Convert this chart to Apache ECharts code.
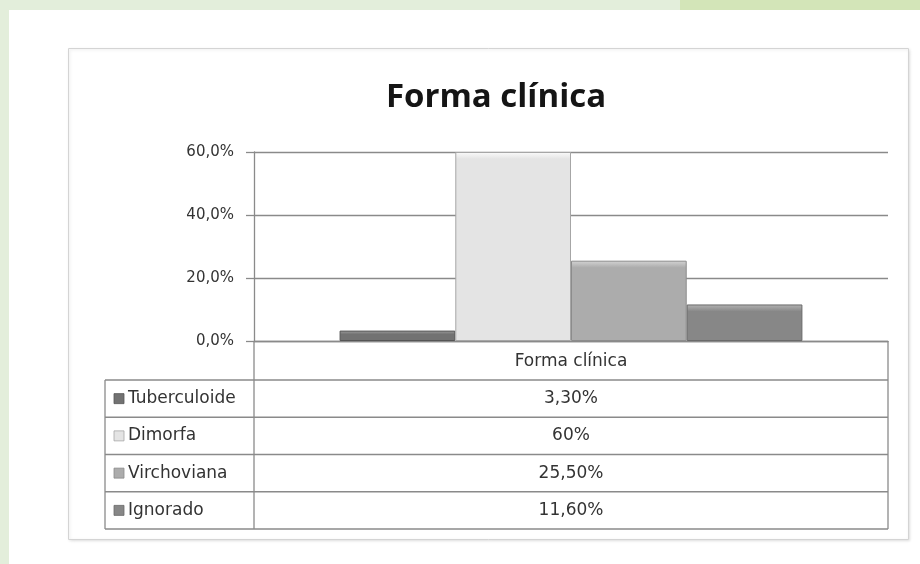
<!DOCTYPE html>
<html>
<head>
<meta charset="utf-8">
<script src="https://cdn.jsdelivr.net/npm/echarts@6/dist/echarts.min.js"></script>
<style>
  html, body { margin: 0; padding: 0; background: #ffffff; }
  #chart { width: 920px; height: 564px; }
</style>
</head>
<body>
<div id="chart"></div>
<script>
// ---- data ----
const titleText = 'Forma clínica';
const categories = ['Forma clínica'];
const seriesNames = ['Tuberculoide', 'Dimorfa', 'Virchoviana', 'Ignorado'];
const seriesValues = [3.3, 60, 25.5, 11.6];
const tableLabels = ['3,30%', '60%', '25,50%', '11,60%'];
const yMin = 0, yMax = 60, yInterval = 20;

// ---- styles ----
const fillColors = ['#727272', '#e4e4e4', '#acacac', '#878787'];
const topColors = ['#a0a0a0', '#fbfbfb', '#d4d4d4', '#b4b4b4'];
const borderColors = ['#555555', '#a6a6a6', '#8c8c8c', '#6a6a6a'];
const FONT = '"DejaVu Sans", sans-serif';
const TITLE_FONT = '"Open Sans", Lato, sans-serif';

const grid = { left: 254, right: 32, top: 152, bottom: 223 };
const plotH = 564 - grid.top - grid.bottom;
const pxPerUnit = plotH / (yMax - yMin);
const bevelPx = 7;

const chart = echarts.init(document.getElementById('chart'), null, { renderer: 'canvas' });

// table geometry
const tblLeft = 105, tblDiv = 254, tblRight = 888;
const headerTop = 564 - grid.bottom;
const tblTop = 380, rowH = 37.25;
const lineColor = '#8a8a8a';

const graphics = [];
// page decorations
graphics.push({ type: 'rect', z: -10, shape: { x: 0, y: 0, width: 920, height: 10 }, style: { fill: '#e3eedb' } });
graphics.push({ type: 'rect', z: -10, shape: { x: 680, y: 0, width: 240, height: 10 }, style: { fill: '#d3e5b8' } });
graphics.push({ type: 'rect', z: -10, shape: { x: 0, y: 0, width: 9, height: 564 }, style: { fill: '#e3eedb' } });
// chart outer box
graphics.push({ type: 'rect', z: -5, shape: { x: 68.5, y: 48.5, width: 840, height: 491 },
  style: { fill: '#ffffff', stroke: '#d4d4d4', lineWidth: 1, shadowBlur: 3, shadowColor: 'rgba(0,0,0,0.12)', shadowOffsetX: 1, shadowOffsetY: 1 } });

// table lines
function hline(x1, x2, y) {
  graphics.push({ type: 'line', shape: { x1: x1, y1: y, x2: x2, y2: y }, style: { stroke: lineColor, lineWidth: 1.3 } });
}
function vline(x, y1, y2) {
  graphics.push({ type: 'line', shape: { x1: x, y1: y1, x2: x, y2: y2 }, style: { stroke: lineColor, lineWidth: 1.3 } });
}
const tblBottom = tblTop + rowH * seriesNames.length;
for (let i = 0; i <= seriesNames.length; i++) hline(tblLeft, tblRight, tblTop + rowH * i);
vline(tblLeft, tblTop, tblBottom);
vline(tblDiv, headerTop, tblBottom);
vline(tblRight, headerTop, tblBottom);

// table rows
seriesNames.forEach(function (name, i) {
  const cy = tblTop + rowH * i + rowH / 2;
  graphics.push({ type: 'rect', shape: { x: 114, y: cy - 5, width: 10, height: 10 },
    style: { fill: fillColors[i], stroke: borderColors[i], lineWidth: 0.8 } });
  graphics.push({ type: 'text', style: { x: 128, y: cy, text: name, fill: '#333333',
    font: '17px ' + FONT, textAlign: 'left', textVerticalAlign: 'middle' } });
  graphics.push({ type: 'text', style: { x: (tblDiv + tblRight) / 2, y: cy, text: tableLabels[i], fill: '#333333',
    font: '17px ' + FONT, textAlign: 'center', textVerticalAlign: 'middle' } });
});

function barItemStyle(i, v) {
  let f = bevelPx / (v * pxPerUnit);
  if (f > 0.35) f = 0.35;
  return {
    color: {
      type: 'linear', x: 0, y: 0, x2: 0, y2: 1,
      colorStops: [
        { offset: 0, color: topColors[i] },
        { offset: f, color: fillColors[i] },
        { offset: 1, color: fillColors[i] }
      ]
    },
    borderColor: borderColors[i],
    borderWidth: 1
  };
}

const option = {
  animation: false,
  backgroundColor: 'transparent',
  title: {
    text: titleText,
    left: 491, top: 76, textAlign: 'center',
    textStyle: { fontFamily: TITLE_FONT, fontSize: 33, fontWeight: 'bold', color: '#151515' }
  },
  grid: grid,
  xAxis: {
    type: 'category',
    data: categories,
    axisLine: { show: true, lineStyle: { color: lineColor, width: 1.3 } },
    axisTick: { show: false },
    axisLabel: { margin: 12, fontFamily: FONT, fontSize: 17, color: '#333333' },
    splitLine: { show: false }
  },
  yAxis: {
    type: 'value',
    min: yMin, max: yMax, interval: yInterval,
    axisLine: { show: true, lineStyle: { color: lineColor, width: 1.3 } },
    axisTick: { show: true, length: 8, lineStyle: { color: lineColor, width: 1.3 } },
    axisLabel: {
      margin: 20, fontFamily: FONT, fontSize: 15, color: '#333333',
      formatter: function (v) { return v.toFixed(1).replace('.', ',') + '%'; }
    },
    splitLine: { show: true, lineStyle: { color: lineColor, width: 1.3 } }
  },
  series: seriesNames.map(function (name, i) {
    return {
      type: 'bar',
      name: name,
      barGap: '0%',
      barCategoryGap: '27%',
      data: [{ value: seriesValues[i], itemStyle: barItemStyle(i, seriesValues[i]) }]
    };
  }),
  graphic: graphics
};

chart.setOption(option);
</script>
</body>
</html>
